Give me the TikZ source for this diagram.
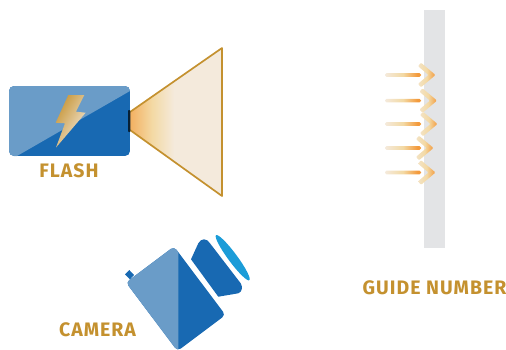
\documentclass[tikz,border=0pt]{standalone}
\usepackage{fontspec}
\setmainfont{Fira Sans}[BoldFont={Fira Sans Bold},BoldFeatures={LetterSpace=5}]
\definecolor{dkblue}{HTML}{1869B2}
\definecolor{ltblue}{HTML}{6A9CC8}
\definecolor{sky}{HTML}{1B9CD8}
\definecolor{gold}{HTML}{C4912F}
\definecolor{panel}{HTML}{E3E4E6}
\definecolor{cream}{HTML}{F4EADC}
\definecolor{orng}{HTML}{F39A3C}
\definecolor{sand}{HTML}{F3D9A4}
\pgfdeclarehorizontalshading{coneshade}{100bp}{color(0bp)=(orng!70!sand); color(25bp)=(orng!65!sand); color(37bp)=(sand); color(49bp)=(cream); color(100bp)=(cream)}
\pgfdeclarehorizontalshading{shaftshade}{100bp}{color(0bp)=(cream); color(25bp)=(cream); color(50bp)=(sand); color(70bp)=(orng); color(100bp)=(orng)}
\pgfdeclarehorizontalshading{chevshade}{100bp}{color(0bp)=(cream); color(25bp)=(cream!60!sand); color(50bp)=(sand); color(75bp)=(orng); color(100bp)=(orng)}
\tikzset{
  lbl/.style={font=\bfseries\fontsize{19.5}{20}\selectfont, text=gold, inner sep=0pt},
  shaft/.style={shading=shaftshade, rounded corners=1.5pt},
  chev/.style={shading=chevshade, rounded corners=1pt},
}
\newcommand{\guidearrow}[2]{%
  \path[shaft] (385,#2-1.8) rectangle (421,#2+1.8);
  \path[chev] (#1-14.5,#2-12.3) -- (#1,#2) -- (#1-14.5,#2+12.3) -- (#1-17.5,#2+8.8) -- (#1-7,#2) -- (#1-17.5,#2-8.8) -- cycle;
}
\begin{document}
\begin{tikzpicture}[x=1pt,y=-1pt]
\useasboundingbox (0,0) rectangle (506,349);
% flash body
\begin{scope}
  \clip[rounded corners=5pt] (9,86) rectangle (130,156);
  \fill[dkblue] (9,86) rectangle (130,156);
  \fill[ltblue] (9,86) -- (130,86) -- (130,91) -- (17,156) -- (9,156) -- cycle;
\end{scope}
% bolt
\path[shading=axis, left color=gold!95!white, right color=cream, shading angle=60]
  (68.3,95) -- (84.3,95) -- (76,111.7) -- (85.7,112.7) -- (56,147.5) -- (65,123.3) -- (55.7,122.7) -- cycle;
% cone
\path[shading=coneshade] (130,112) -- (222,48) -- (222,196) -- (130,130) -- cycle;
\draw[gold, line width=1.7pt, line join=round] (130,112) -- (222,48) -- (222,196) -- (130,130);
\fill[black!70!dkblue, rounded corners=0.8pt] (128,110) rectangle (130.3,132);
\node[lbl] (flash) at (69,170.5) {FLASH};
% guide panel
\fill[panel] (424,10) rectangle (445,248);
\guidearrow{435.5}{75}
\guidearrow{437}{100.6}
\guidearrow{437.5}{124}
\guidearrow{433.5}{148}
\guidearrow{435.5}{172.5}
\node[lbl] (guide) at (434.5,287.5) {GUIDE NUMBER};
% camera
\fill[dkblue] (125,274.3) -- (129.3,270) -- (134,275) -- (130,279.3) -- cycle;
\begin{scope}
  \clip (0,0) rectangle (506,349);
  \fill[dkblue, rounded corners=4pt] (174,246.5) -- (225.5,315) -- (177.5,351) -- (126,282.5) -- cycle;
  \clip (100,230) rectangle (178.3,349);
  \fill[ltblue, rounded corners=4pt] (174,246.5) -- (225.5,315) -- (177.5,351) -- (126,282.5) -- cycle;
\end{scope}
\fill[dkblue] (191,259.3) -- (198.3,243.3) .. controls (201,238) and (207,238) .. (210,243.3) -- (240.7,283.3) .. controls (243,287) and (242,292) .. (238.3,293.3) -- (218.3,296.7) -- cycle;
\fill[sky] (232.7,257.7) ellipse [x radius=28pt, y radius=4.5pt, rotate=-53.5];
\node[lbl] (camera) at (97.5,329.5) {CAMERA};
\end{tikzpicture}
\end{document}
